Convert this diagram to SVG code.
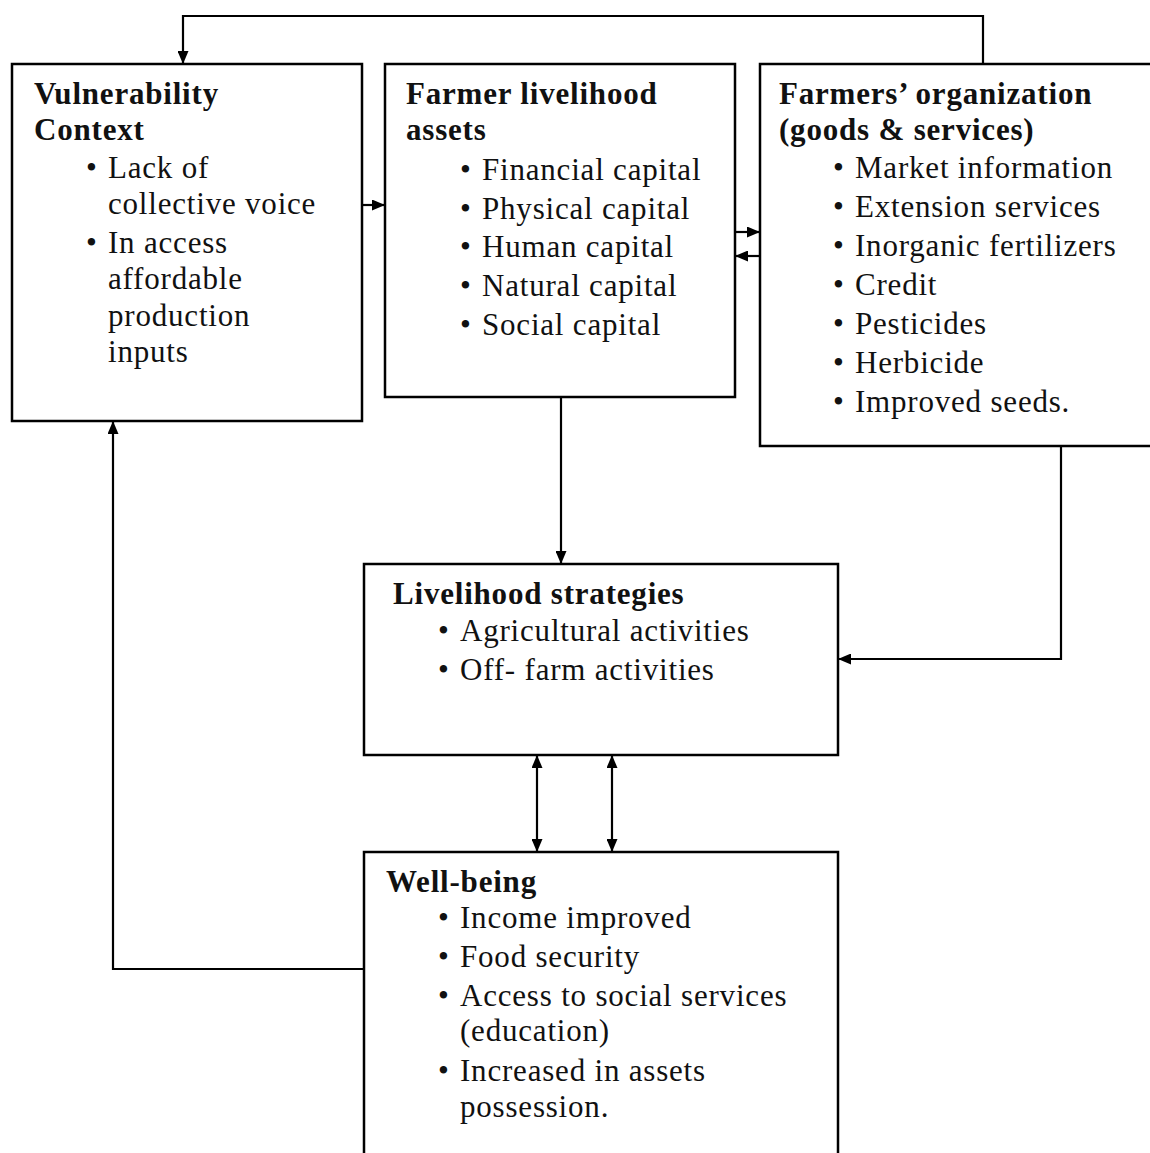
<svg xmlns="http://www.w3.org/2000/svg" width="1150" height="1153" viewBox="0 0 1150 1153">
<defs>
<style>
.box{fill:#fff;stroke:#000;stroke-width:2.5}
.t{font-family:"Liberation Serif","Times New Roman",serif;font-size:31px;letter-spacing:0.8px;fill:#111}
.h{font-weight:bold}
.c{fill:none;stroke:#000;stroke-width:2.2}
</style>
<marker id="ah" viewBox="0 0 13 11" refX="13" refY="5.5" markerWidth="13" markerHeight="11" markerUnits="userSpaceOnUse" orient="auto-start-reverse">
<path d="M0,0 L13,5.5 L0,11 Z" fill="#000"/>
</marker>
</defs>
<rect width="1150" height="1153" fill="#fff"/>
<g id="connectors">
<path class="c" d="M983,64 V16 H183 V64" marker-end="url(#ah)"/>
<path class="c" d="M362,205 H385" marker-end="url(#ah)"/>
<path class="c" d="M735,232 H760" marker-end="url(#ah)"/>
<path class="c" d="M760,256 H735" marker-end="url(#ah)"/>
<path class="c" d="M561,397 V564" marker-end="url(#ah)"/>
<path class="c" d="M1061,446 V659 H838" marker-end="url(#ah)"/>
<path class="c" d="M537,755 V852" marker-start="url(#ah)" marker-end="url(#ah)"/>
<path class="c" d="M612,755 V852" marker-start="url(#ah)" marker-end="url(#ah)"/>
<path class="c" d="M364,969 H113 V421" marker-end="url(#ah)"/>
</g>
<g id="vulnerability">
<rect class="box" x="12" y="64" width="350" height="357"/>
<text class="t h" x="34" y="104">Vulnerability</text>
<text class="t h" x="34" y="140">Context</text>
<text class="t" x="86" y="178">•</text><text class="t" x="108" y="178">Lack of</text>
<text class="t" x="108" y="214">collective voice</text>
<text class="t" x="86" y="253">•</text><text class="t" x="108" y="253">In access</text>
<text class="t" x="108" y="289">affordable</text>
<text class="t" x="108" y="326">production</text>
<text class="t" x="108" y="362">inputs</text>
</g>
<g id="assets">
<rect class="box" x="385" y="64" width="350" height="333"/>
<text class="t h" x="406" y="104">Farmer livelihood</text>
<text class="t h" x="406" y="140">assets</text>
<text class="t" x="460" y="180">•</text><text class="t" x="482" y="180">Financial capital</text>
<text class="t" x="460" y="219">•</text><text class="t" x="482" y="219">Physical capital</text>
<text class="t" x="460" y="257">•</text><text class="t" x="482" y="257">Human capital</text>
<text class="t" x="460" y="296">•</text><text class="t" x="482" y="296">Natural capital</text>
<text class="t" x="460" y="335">•</text><text class="t" x="482" y="335">Social capital</text>
</g>
<g id="organization">
<rect class="box" x="760" y="64" width="400" height="382"/>
<text class="t h" x="779" y="104">Farmers’ organization</text>
<text class="t h" x="779" y="140">(goods &amp; services)</text>
<text class="t" x="833" y="178">•</text><text class="t" x="855" y="178">Market information</text>
<text class="t" x="833" y="217">•</text><text class="t" x="855" y="217">Extension services</text>
<text class="t" x="833" y="256">•</text><text class="t" x="855" y="256">Inorganic fertilizers</text>
<text class="t" x="833" y="295">•</text><text class="t" x="855" y="295">Credit</text>
<text class="t" x="833" y="334">•</text><text class="t" x="855" y="334">Pesticides</text>
<text class="t" x="833" y="373">•</text><text class="t" x="855" y="373">Herbicide</text>
<text class="t" x="833" y="412">•</text><text class="t" x="855" y="412">Improved seeds.</text>
</g>
<g id="strategies">
<rect class="box" x="364" y="564" width="474" height="191"/>
<text class="t h" x="393" y="604">Livelihood strategies</text>
<text class="t" x="438" y="641">•</text><text class="t" x="460" y="641">Agricultural activities</text>
<text class="t" x="438" y="680">•</text><text class="t" x="460" y="680">Off- farm activities</text>
</g>
<g id="wellbeing">
<rect class="box" x="364" y="852" width="474" height="320"/>
<text class="t h" x="386" y="892">Well-being</text>
<text class="t" x="438" y="928">•</text><text class="t" x="460" y="928">Income improved</text>
<text class="t" x="438" y="967">•</text><text class="t" x="460" y="967">Food security</text>
<text class="t" x="438" y="1006">•</text><text class="t" x="460" y="1006">Access to social services</text>
<text class="t" x="460" y="1041">(education)</text>
<text class="t" x="438" y="1081">•</text><text class="t" x="460" y="1081">Increased in assets</text>
<text class="t" x="460" y="1117">possession.</text>
</g>
</svg>
